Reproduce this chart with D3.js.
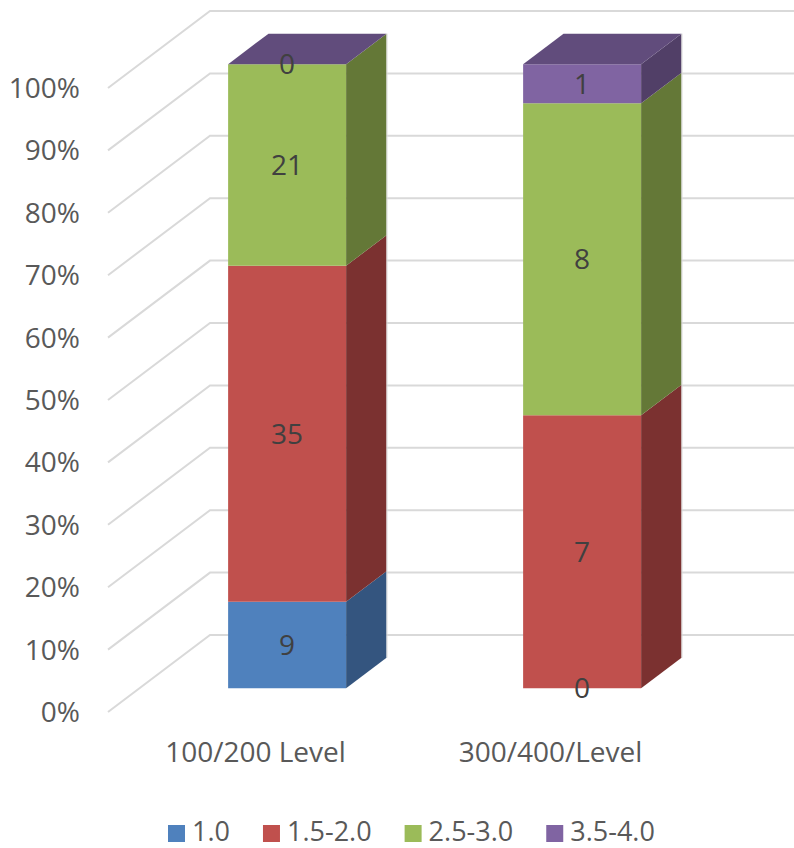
<!DOCTYPE html>
<html>
<head>
<meta charset="utf-8">
<script src="https://cdn.jsdelivr.net/npm/d3@7/dist/d3.min.js"></script>
<style>
  html, body { margin: 0; padding: 0; background: #fff; }
  svg { display: block; }
  text { font-family: "Open Sans", "Liberation Sans", sans-serif; }
</style>
</head>
<body>
<svg id="chart" width="794" height="848"></svg>
<script>
// Grade bands (series) and course levels (categories)
const categories = ["100/200 Level", "300/400/Level"];
const seriesNames = ["1.0", "1.5-2.0", "2.5-3.0", "3.5-4.0"];
// counts per series, one value per category
const s10   = [9, 0];
const s15   = [35, 7];
const s25   = [21, 8];
const s35   = [0, 1];
const seriesValues = [s10, s15, s25, s35];
const tickValues = [0, 0.1, 0.2, 0.3, 0.4, 0.5, 0.6, 0.7, 0.8, 0.9, 1.0];

// front / top / side face colours per series
const frontColors = ["#4F81BD", "#C0504D", "#9BBB59", "#8064A2"];
const sideColors  = ["#34557F", "#7B3130", "#647837", "#513F67"];
const topColors   = ["#3F6897", "#9A403E", "#7D9647", "#614C7C"];

const svg = d3.select("#chart");

// oblique projection: depth z in [0,1] shifts points right and up
const DX = 102, DY = -77;
const zFront = 0.31, zBack = 0.706;
const proj = (x, y, z) => [x + DX * z, y + DY * z];

const y = d3.scaleLinear().domain([0, 1]).range([712, 88]);
const x = d3.scaleBand().domain(categories).range([108, 698])
  .paddingInner(0.6).paddingOuter(0.3);

// gridlines: side wall diagonal then back wall horizontal
const grid = svg.append("g");
tickValues.forEach(v => {
  const p0 = [108, y(v)];
  const p1 = proj(108, y(v), 1);
  grid.append("polyline")
    .attr("points", [p0, p1, [800, p1[1]]].map(p => p.join(",")).join(" "))
    .attr("fill", "none")
    .attr("stroke", "#D9D9D9")
    .attr("stroke-width", 2);
});

// y axis labels
const fmt = d3.format(".0%");
svg.append("g").selectAll("text").data(tickValues).join("text")
  .attr("x", 80)
  .attr("y", d => y(d))
  .attr("dy", "0.36em")
  .attr("text-anchor", "end")
  .attr("font-size", 28)
  .attr("fill", "#595959")
  .text(d => fmt(d));

// stack to percentages
const rows = categories.map((c, i) => {
  const r = { cat: c };
  seriesNames.forEach((s, k) => r[s] = seriesValues[k][i]);
  return r;
});
const stack = d3.stack().keys(seriesNames).offset(d3.stackOffsetExpand);
const stacked = stack(rows);

const poly = pts => pts.map(p => p.join(",")).join(" ");
const bars = svg.append("g");
const labels = [];

categories.forEach((cat, ci) => {
  const x0 = x(cat), x1 = x0 + x.bandwidth();
  stacked.forEach((layer, k) => {
    const [v0, v1] = layer[ci];
    const yb = y(v0), yt = y(v1);
    // front face
    const f = [proj(x0, yt, zFront), proj(x1, yt, zFront), proj(x1, yb, zFront), proj(x0, yb, zFront)];
    bars.append("polygon").attr("points", poly(f)).attr("fill", frontColors[k]);
    // right side face
    const s = [proj(x1, yt, zFront), proj(x1, yt, zBack), proj(x1, yb, zBack), proj(x1, yb, zFront)];
    bars.append("polygon").attr("points", poly(s)).attr("fill", sideColors[k]);
    const fc = proj((x0 + x1) / 2, (yb + yt) / 2, zFront);
    labels.push({ x: fc[0], y: fc[1], text: seriesValues[k][ci] });
  });
  // top face of the stack, coloured by the last series
  const last = stacked.length - 1;
  const yt = y(stacked[last][ci][1]);
  const t = [proj(x0, yt, zFront), proj(x0, yt, zBack), proj(x1, yt, zBack), proj(x1, yt, zFront)];
  bars.append("polygon").attr("points", poly(t)).attr("fill", topColors[last]);
  // thin light edge along the back of the side face
  const e0 = proj(x1, yt, zBack), e1 = proj(x1, y(0), zBack);
  bars.append("line").attr("x1", e0[0] + 0.5).attr("y1", e0[1]).attr("x2", e1[0] + 0.5).attr("y2", e1[1])
    .attr("stroke", "#D9D9D9").attr("stroke-width", 1);
});

// data labels
svg.append("g").selectAll("text").data(labels).join("text")
  .attr("x", d => d.x)
  .attr("y", d => d.y)
  .attr("dy", "0.36em")
  .attr("text-anchor", "middle")
  .attr("font-size", 28)
  .attr("fill", "#404040")
  .text(d => d.text);

// category labels along the floor front
svg.append("g").selectAll("text").data(categories).join("text")
  .attr("x", d => x(d) + x.bandwidth() / 2)
  .attr("y", 762)
  .attr("text-anchor", "middle")
  .attr("font-size", 28)
  .attr("fill", "#595959")
  .text(d => d);

// legend
const legend = svg.append("g");
let lx = 168;
seriesNames.forEach((name, k) => {
  legend.append("rect").attr("x", lx).attr("y", 825).attr("width", 17).attr("height", 17)
    .attr("fill", frontColors[k]);
  const t = legend.append("text").attr("x", lx + 24).attr("y", 841)
    .attr("font-size", 27).attr("fill", "#595959").text(name);
  lx += 24 + t.node().getComputedTextLength() + 33;
});
</script>
</body>
</html>
